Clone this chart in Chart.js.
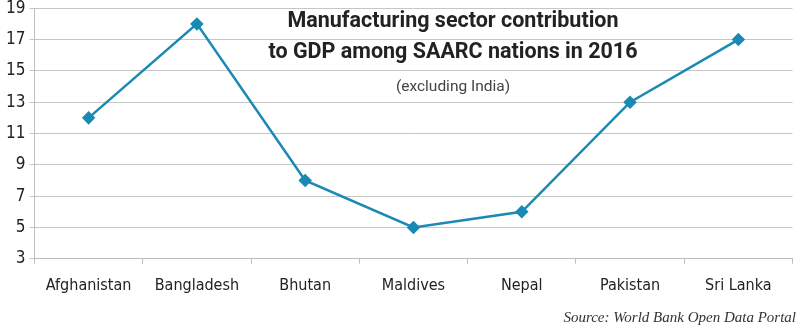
<!DOCTYPE html>
<html>
<head>
<meta charset="utf-8">
<style>
  html, body { margin: 0; padding: 0; background: #fff; }
  #wrap { width: 800px; height: 329px; position: relative; }
</style>
<script src="https://cdn.jsdelivr.net/npm/chart.js@4/dist/chart.umd.min.js"></script>
</head>
<body>
<div id="wrap"><canvas id="saarcChart"></canvas></div>
<script>
var countries = ['Afghanistan', 'Bangladesh', 'Bhutan', 'Maldives', 'Nepal', 'Pakistan', 'Sri Lanka'];
var shareOfGdp = [12, 18, 8, 5, 6, 13, 17];
var titleLines = ['Manufacturing sector contribution', 'to GDP among SAARC nations in 2016'];
var subTitle = '(excluding India)';
var sourceNote = 'Source: World Bank Open Data Portal';

var tickFont = "'Liberation Sans Narrow', 'DejaVu Sans Condensed', sans-serif";

// title + source are drawn over the canvas, like the original graphic
var overlayText = {
  id: 'overlayText',
  afterDraw: function(c) {
    var ctx = c.ctx;
    ctx.save();
    ctx.textAlign = 'center';
    ctx.textBaseline = 'middle';
    ctx.fillStyle = '#222';
    ctx.font = "bold 21.5px Roboto, sans-serif";
    ctx.fillText(titleLines[0], 453, 22);
    ctx.fillText(titleLines[1], 453, 53);
    ctx.fillStyle = '#444';
    ctx.font = "15.5px Roboto, sans-serif";
    ctx.fillText(subTitle, 453, 87);
    ctx.textAlign = 'right';
    ctx.fillStyle = '#333';
    ctx.font = "italic 15px 'Liberation Serif', serif";
    ctx.fillText(sourceNote, 796, 318);
    ctx.restore();
  }
};

chart = new Chart(document.getElementById('saarcChart'), {
  type: 'line',
  data: {
    labels: countries,
    datasets: [{
      data: shareOfGdp,
      borderColor: '#1a8ab4',
      backgroundColor: '#1a8ab4',
      borderWidth: 2.5,
      pointStyle: 'rectRot',
      pointRadius: 5,
      pointHoverRadius: 5,
      tension: 0
    }]
  },
  options: {
    responsive: true,
    maintainAspectRatio: false,
    animation: false,
    layout: { padding: { top: 0, right: 1, bottom: 22, left: 2 } },
    plugins: { legend: { display: false }, tooltip: { enabled: false } },
    scales: {
      x: {
        offset: true,
        grid: { offset: true, drawOnChartArea: false, tickLength: 5, color: '#bdbdbd' },
        border: { color: '#bdbdbd' },
        ticks: { color: '#222', font: { family: tickFont, size: 16 }, padding: 12 }
      },
      y: {
        min: 3,
        max: 19,
        ticks: { stepSize: 2, color: '#222', font: { family: tickFont, size: 17, lineHeight: 0.5 }, padding: 4 },
        grid: { color: '#c6c6c6', tickLength: 5 },
        border: { color: '#bdbdbd' }
      }
    }
  },
  plugins: [overlayText]
});
</script>
</body>
</html>
